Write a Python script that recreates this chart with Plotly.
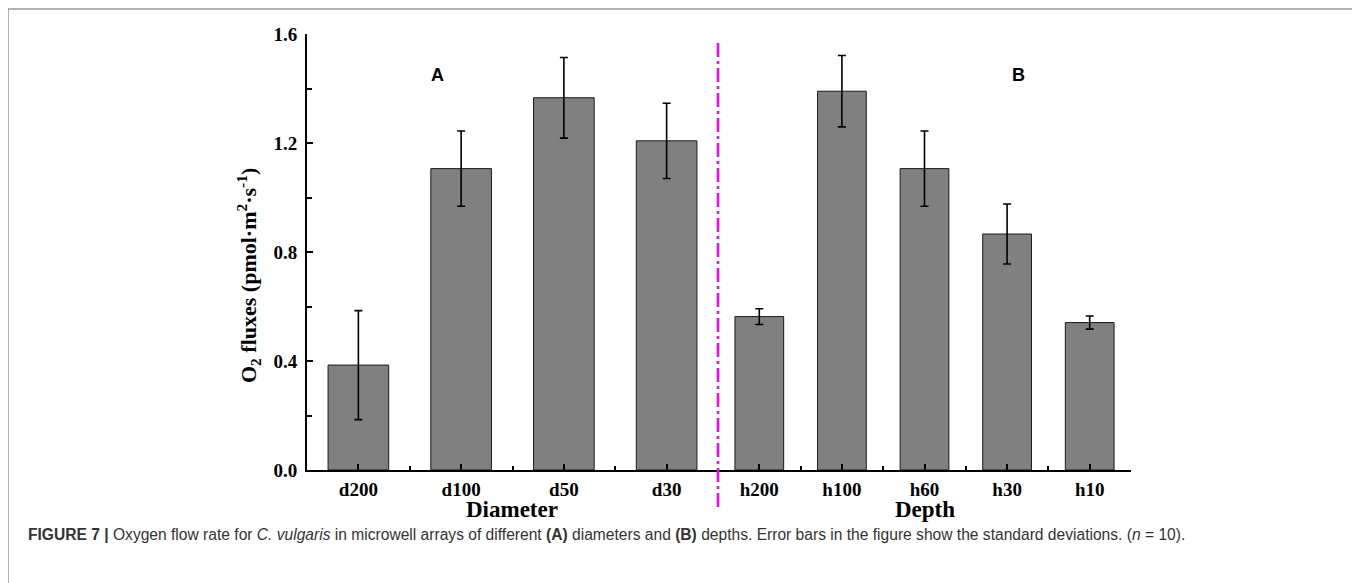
import plotly.graph_objects as go

# ---- data ----
diameter_cats = ["d200", "d100", "d50", "d30"]
diameter_vals = [0.385, 1.106, 1.366, 1.208]
diameter_err = [0.20, 0.138, 0.148, 0.138]

depth_cats = ["h200", "h100", "h60", "h30", "h10"]
depth_vals = [0.563, 1.39, 1.106, 0.866, 0.541]
depth_err = [0.029, 0.131, 0.138, 0.11, 0.024]

y_ticks = [0.0, 0.4, 0.8, 1.2, 1.6]
y_minor = [0.2, 0.6, 1.0, 1.4]

# ---- layout geometry (screen pixels; page body has an 8px margin) ----
OFF = 8
W, H = 1360 - OFF, 583 - OFF
L, R, T, B = 307, 1131, 34, 470
PW, PH = R - L, B - T
SPLIT = 718


def px(xp):
    return (xp - L) / PW


def py(yp):
    return (B - yp) / PH


serif = "Liberation Serif, Times New Roman, serif"
sans = "Liberation Sans, Arial, sans-serif"

bar_style = dict(marker=dict(color="#808080", line=dict(color="#1a1a1a", width=1)), width=0.59, showlegend=False)
err_style = dict(type="data", color="black", thickness=1.6, width=4)

fig = go.Figure()
fig.add_trace(go.Bar(x=list(range(len(diameter_cats))), y=diameter_vals,
                     error_y=dict(array=diameter_err, **err_style),
                     xaxis="x", yaxis="y", **bar_style))
fig.add_trace(go.Bar(x=list(range(len(depth_cats))), y=depth_vals,
                     error_y=dict(array=depth_err, **err_style),
                     xaxis="x2", yaxis="y", **bar_style))

split = px(SPLIT)
tick_font = dict(family=serif, size=19, color="black", weight="bold")
xcommon = dict(showline=True, linecolor="black", linewidth=2, ticks="inside", ticklen=6,
               tickwidth=2, tickcolor="black", showgrid=False, zeroline=False, anchor="y",
               tickfont=tick_font, ticklabelstandoff=1,
               minor=dict(tick0=0.5, dtick=1, ticks="inside", ticklen=4, tickwidth=2, tickcolor="black"))

fig.update_layout(
    width=W, height=H,
    margin=dict(l=L - OFF, r=W - (R - OFF), t=T - OFF, b=H - (B - OFF)),
    paper_bgcolor="white", plot_bgcolor="white",
    xaxis=dict(domain=[0, split], range=[-0.5, len(diameter_cats) - 0.5],
               tickvals=list(range(len(diameter_cats))), ticktext=diameter_cats, **xcommon),
    xaxis2=dict(domain=[split, 1], range=[-0.5, len(depth_cats) - 0.5],
                tickvals=list(range(len(depth_cats))), ticktext=depth_cats, **xcommon),
    yaxis=dict(range=[0, 1.6], tickvals=y_ticks, tickformat=".1f", showline=True,
               linecolor="black", linewidth=2, ticks="inside", ticklen=6, tickwidth=2,
               tickcolor="black", showgrid=False, zeroline=False,
               tickfont=tick_font, ticklabelstandoff=4,
               minor=dict(tickvals=y_minor, ticks="inside", ticklen=5, tickwidth=2, tickcolor="black")),
)

annotations = [
    dict(text="<b>Diameter</b>", x=px(512), y=py(509), font=dict(family=serif, size=23, color="black")),
    dict(text="<b>Depth</b>", x=px(925), y=py(509), font=dict(family=serif, size=23, color="black")),
    dict(text="<b>O<sub>2</sub> fluxes (pmol·m<sup>2</sup>·s<sup>-1</sup>)</b>", x=px(248), y=py(276),
         textangle=-90, font=dict(family=serif, size=22, color="black")),
    dict(text="<b>A</b>", x=px(437), y=py(75), font=dict(family=sans, size=18, color="black")),
    dict(text="<b>B</b>", x=px(1018), y=py(75), font=dict(family=sans, size=18, color="black")),
    dict(text="<b>FIGURE 7 |</b> Oxygen flow rate for <i>C. vulgaris</i> in microwell arrays of different "
              "<b>(A)</b> diameters and <b>(B)</b> depths. Error bars in the figure show the standard "
              "deviations. (<i>n</i> = 10).",
         x=px(26), y=py(534), xanchor="left", font=dict(family=sans, size=15.6, color="#333333")),
]
for a in annotations:
    a.setdefault("xanchor", "center")
    a.update(xref="paper", yref="paper", showarrow=False, yanchor="middle")
fig.update_layout(annotations=annotations)

fig.update_layout(shapes=[
    dict(type="rect", xref="paper", yref="paper", x0=px(8), x1=px(1356), y0=py(620), y1=py(9),
         line=dict(color="#9a9a9a", width=1.5), layer="below"),
    dict(type="line", xref="paper", yref="paper", x0=split, x1=split, y0=py(507), y1=py(42),
         line=dict(color="#ff00ff", width=2.5, dash="14px,4px,3px,4px")),
])

fig.write_html("out.html")
